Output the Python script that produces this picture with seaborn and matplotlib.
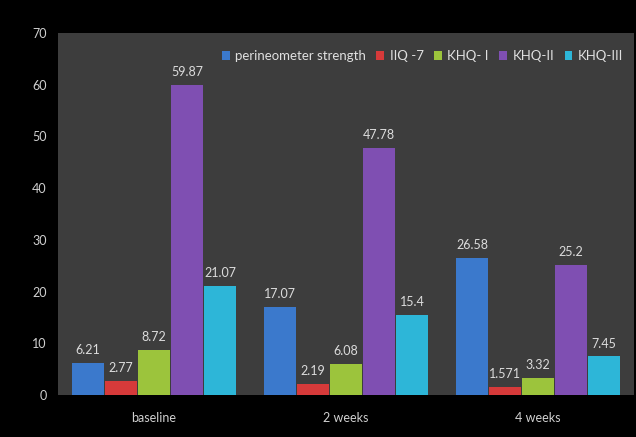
import matplotlib
matplotlib.use("Agg")
import matplotlib.pyplot as plt
import seaborn as sns
import pandas as pd

categories = ["baseline", "2 weeks", "4 weeks"]
series = ["perineometer strength", "IIQ -7", "KHQ- I", "KHQ-II", "KHQ-III"]
perineometer = [6.21, 17.07, 26.58]
iiq7 = [2.77, 2.19, 1.571]
khq1 = [8.72, 6.08, 3.32]
khq2 = [59.87, 47.78, 25.2]
khq3 = [21.07, 15.4, 7.45]
colors = ["#3b79cc", "#d63a3a", "#9cc43c", "#7f4fb2", "#2db6d8"]

rows = []
for name, vals in zip(series, [perineometer, iiq7, khq1, khq2, khq3]):
    for c, v in zip(categories, vals):
        rows.append({"time": c, "series": name, "value": v})
df = pd.DataFrame(rows)

sns.set_style("white")
plt.rcParams["font.family"] = ["Lato", "DejaVu Sans"]

fig = plt.figure(figsize=(6.36, 4.37), dpi=100, facecolor="black")
ax = fig.add_axes([0.0912, 0.0961, 0.9057, 0.8284])
ax.set_facecolor("#3d3d3d")

sns.barplot(data=df, x="time", y="value", hue="series", order=categories,
            hue_order=series, palette=colors, width=0.86, gap=0.04,
            saturation=1, ax=ax, errorbar=None, edgecolor="none", legend=True)

for cont in ax.containers:
    labs = []
    for b in cont:
        v = b.get_height()
        labs.append(("%g" % v))
    ax.bar_label(cont, labels=labs, padding=5, color="#dcdcdc", fontsize=9)

ax.set_ylim(0, 70)
ax.set_yticks(range(0, 71, 10))
ax.set_xlim(-0.5, 2.5)
ax.set_xlabel("")
ax.set_ylabel("")
ax.tick_params(axis="both", colors="#d0d0d0", labelsize=9, length=0, pad=8)
ax.tick_params(axis="x", pad=12)
for s in ax.spines.values():
    s.set_visible(False)

leg = ax.legend(loc="center right", bbox_to_anchor=(0.99, 0.936), ncol=5, frameon=False,
                fontsize=9.5, handlelength=0.6, handleheight=0.6, handletextpad=0.4,
                columnspacing=0.8, borderaxespad=0.0)
for t in leg.get_texts():
    t.set_color("#e0e0e0")

fig.savefig("out.png", dpi=100, facecolor="black")
